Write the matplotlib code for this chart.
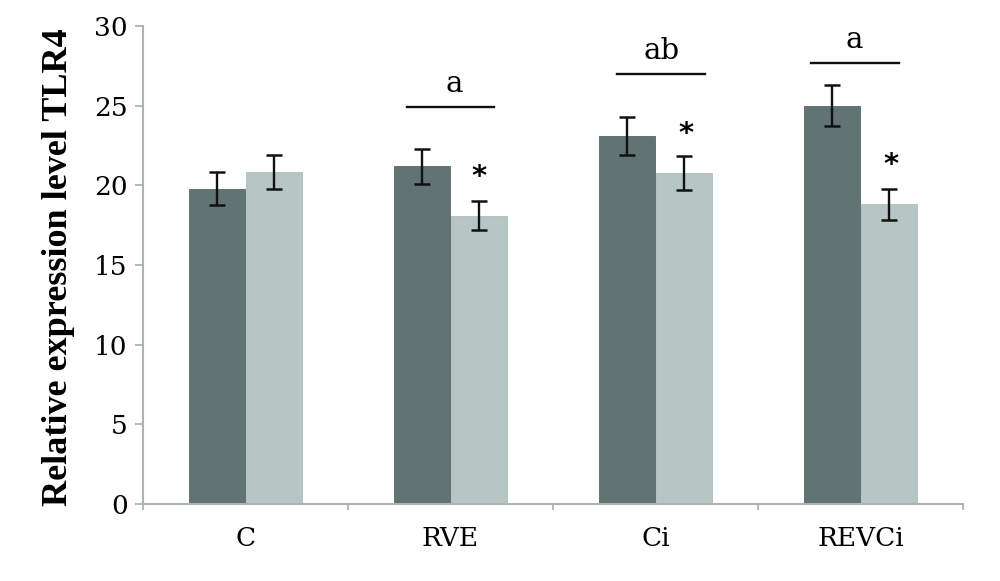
import matplotlib
matplotlib.use("Agg")
import matplotlib.pyplot as plt
import numpy as np

# ── data ───────────────────────────────────────────────────────────────────
groups = ["C", "RVE", "Ci", "REVCi"]
dark_vals = [19.8, 21.2, 23.1, 25.0]
dark_err = [1.05, 1.1, 1.2, 1.3]
light_vals = [20.85, 18.1, 20.8, 18.8]
light_err = [1.05, 0.92, 1.07, 0.96]

# significance letters over groups: (x start, x end, line y, letter)
sig_lines = [(0.79, 1.21, 24.9, "a"), (1.81, 2.24, 27.0, "ab"), (2.76, 3.19, 27.7, "a")]
sig_letter_x = [1.02, 2.03, 2.97]
star_x = [1.14, 2.15, 3.15]
star_y = [20.55, 23.2, 21.3]

DARK = "#627373"
LIGHT = "#b6c6c3"
AXIS = "#a9b4b3"
SERIF = ["DejaVu Serif"]

fig = plt.figure(figsize=(10, 5.81), dpi=100)
ax = fig.add_axes([0.143, 0.1325, 0.82, 0.8227])

x = np.arange(len(groups))
w = 0.272
off = 0.138
err_kw = dict(ecolor="#111111", elinewidth=1.7, capsize=6, capthick=1.8)
ax.bar(x - off, dark_vals, w, color=DARK, edgecolor="#566666", linewidth=0.6,
       yerr=dark_err, error_kw=err_kw, zorder=2)
ax.bar(x + off, light_vals, w, color=LIGHT, edgecolor="#adbdba", linewidth=0.6,
       yerr=light_err, error_kw=err_kw, zorder=2)

for (x0, x1, yl, lab), lx in zip(sig_lines, sig_letter_x):
    ax.plot([x0, x1], [yl, yl], color="#111111", lw=1.7, clip_on=False)
    ax.text(lx, yl + 0.95, lab, ha="center", va="baseline", fontsize=21,
            family=SERIF, clip_on=False)

for sx, sy in zip(star_x, star_y):
    ax.text(sx, sy, "*", ha="center", va="center", fontsize=21,
            fontweight="bold", family=["DejaVu Sans"])

ax.set_xlim(-0.5, 3.5)
ax.set_ylim(0, 30)
ax.set_yticks(range(0, 31, 5))
ax.set_yticklabels([str(v) for v in range(0, 31, 5)], family=SERIF, fontsize=19)

# category labels between boundary ticks, like a spreadsheet chart
ax.set_xticks(np.arange(-0.5, 3.6, 1.0))
ax.set_xticklabels([])
ax.set_xticks(x, minor=True)
ax.set_xticklabels(groups, minor=True, family=SERIF, fontsize=19)
ax.tick_params(axis="x", which="minor", length=0, pad=16)
ax.tick_params(axis="x", which="major", length=4, width=1.3, color=AXIS, direction="out")
ax.tick_params(axis="y", length=6, width=1.3, color=AXIS, pad=5)

for s in ["top", "right"]:
    ax.spines[s].set_visible(False)
for s in ["left", "bottom"]:
    ax.spines[s].set_color(AXIS)
    ax.spines[s].set_linewidth(1.5)

ax.set_ylabel("Relative expression level TLR4", family=["Liberation Serif"],
              fontsize=26, fontweight="bold")
ax.yaxis.set_label_coords(-0.083, 0.495)

fig.savefig("out.png", dpi=100)
